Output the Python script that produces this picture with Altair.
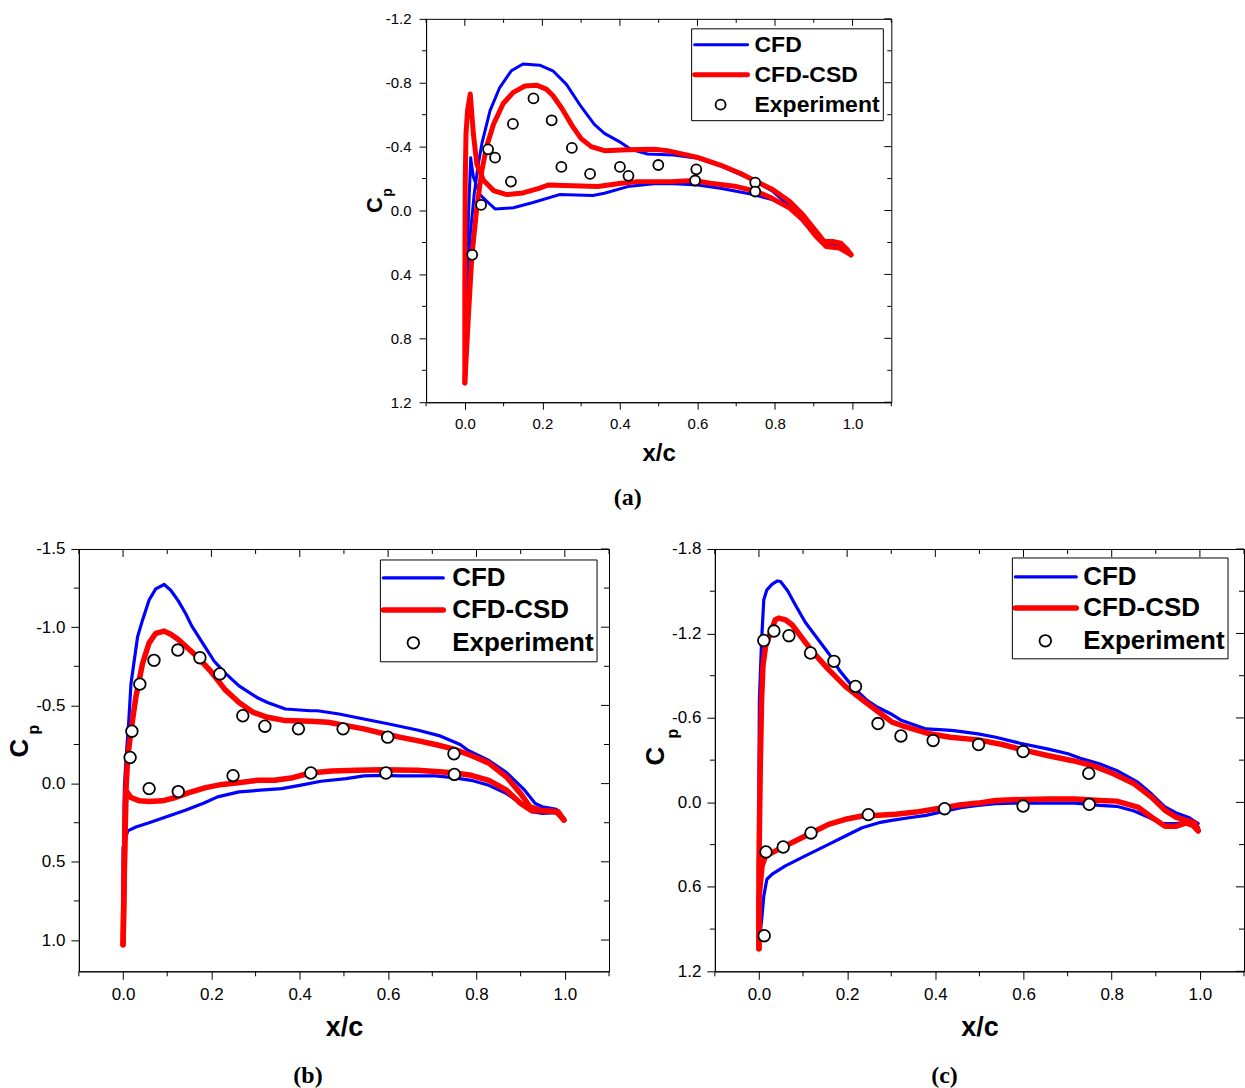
import altair as alt
import pandas as pd

FONT = "Liberation Sans"
SERIF = "Liberation Serif"
BLUE = "#0000ff"
RED = "#ff0000"

SERIES = ["CFD", "CFD-CSD", "Experiment"]

X_MAJOR = [0.0, 0.2, 0.4, 0.6, 0.8, 1.0]
X_MINOR = [-0.1, 0.1, 0.3, 0.5, 0.7, 0.9, 1.1]

A_Y_MAJOR = [-1.2, -0.8, -0.4, 0.0, 0.4, 0.8, 1.2]
A_Y_MINOR = [-1.0, -0.6, -0.2, 0.2, 0.6, 1.0]
B_Y_MAJOR = [-1.5, -1.0, -0.5, 0.0, 0.5, 1.0]
B_Y_MINOR = [-1.25, -0.75, -0.25, 0.25, 0.75]
C_Y_MAJOR = [-1.8, -1.2, -0.6, 0.0, 0.6, 1.2]
C_Y_MINOR = [-1.5, -0.9, -0.3, 0.3, 0.9]

# ---------------- case (a) ----------------
A_CFD_UP_X = [0.0, 0.006, 0.014, 0.024, 0.034, 0.044, 0.065, 0.09, 0.12, 0.15, 0.193, 0.227, 0.262, 0.30, 0.334,
              0.36, 0.403, 0.428, 0.471, 0.539, 0.60, 0.659, 0.744, 0.795, 0.838, 0.872, 0.906, 0.932, 0.966, 0.991]
A_CFD_UP_CP = [1.00, 0.55, 0.15, -0.10, -0.28, -0.42, -0.625, -0.77, -0.875, -0.917, -0.91, -0.875, -0.79, -0.65,
               -0.54, -0.483, -0.425, -0.383, -0.354, -0.348, -0.327, -0.28, -0.19, -0.119, -0.025, 0.069, 0.163,
               0.204, 0.215, 0.267]
A_CFD_LO_X = [0.0, 0.004, 0.009, 0.013, 0.015, 0.022, 0.039, 0.056, 0.078, 0.125, 0.176, 0.244, 0.33, 0.36, 0.42,
              0.488, 0.539, 0.60, 0.659, 0.744, 0.795, 0.838, 0.872, 0.906, 0.932, 0.966, 0.991]
A_CFD_LO_CP = [1.00, 0.50, 0.05, -0.20, -0.33, -0.21, -0.10, -0.06, -0.01, -0.017, -0.05, -0.10, -0.094, -0.108,
               -0.15, -0.167, -0.167, -0.16, -0.14, -0.10, -0.067, -0.015, 0.058, 0.163, 0.215, 0.23, 0.267]
A_CSD_UP_X = [0.0, 0.009, 0.018, 0.031, 0.044, 0.056, 0.074, 0.099, 0.125, 0.155, 0.185, 0.21, 0.227, 0.25, 0.277,
              0.30, 0.326, 0.36, 0.42, 0.488, 0.522, 0.60, 0.659, 0.71, 0.753, 0.795, 0.838, 0.872, 0.906, 0.927,
              0.949, 0.97, 0.987, 0.996]
A_CSD_UP_CP = [1.08, 0.67, 0.29, -0.02, -0.25, -0.40, -0.54, -0.67, -0.74, -0.78, -0.785, -0.76, -0.72, -0.64,
               -0.53, -0.45, -0.40, -0.375, -0.38, -0.383, -0.375, -0.333, -0.285, -0.233, -0.18, -0.13, -0.056,
               0.027, 0.13, 0.194, 0.194, 0.204, 0.246, 0.277]
A_CSD_LO_X = [0.0, 0.0, 0.001, 0.003, 0.007, 0.014, 0.022, 0.031, 0.048, 0.074, 0.108, 0.15, 0.193, 0.215, 0.279,
              0.343, 0.403, 0.445, 0.531, 0.59, 0.633, 0.701, 0.753, 0.787, 0.838, 0.872, 0.906, 0.932, 0.966, 0.996]
A_CSD_LO_CP = [1.08, 0.46, -0.167, -0.48, -0.625, -0.73, -0.48, -0.29, -0.19, -0.125, -0.10, -0.11, -0.14, -0.16,
               -0.155, -0.15, -0.171, -0.181, -0.181, -0.1875, -0.171, -0.15, -0.119, -0.083, -0.015, 0.058, 0.163,
               0.225, 0.235, 0.277]
A_EXP_X = [0.019, 0.042, 0.06, 0.078, 0.119, 0.124, 0.177, 0.224, 0.249, 0.276, 0.323, 0.40, 0.422, 0.499, 0.597,
           0.594, 0.749, 0.749]
A_EXP_CP = [0.277, -0.035, -0.383, -0.331, -0.181, -0.542, -0.702, -0.565, -0.273, -0.392, -0.229, -0.273, -0.217,
            -0.285, -0.258, -0.188, -0.175, -0.119]

# ---------------- case (b) ----------------
B_CFD_UP_X = [0.0, 0.001, 0.002, 0.003, 0.007, 0.013, 0.018, 0.033, 0.044, 0.059, 0.074, 0.093, 0.108, 0.125, 0.142,
              0.155, 0.182, 0.206, 0.23, 0.2625, 0.303, 0.327, 0.3675, 0.424, 0.44, 0.489, 0.545, 0.602, 0.666,
              0.715, 0.763, 0.779, 0.828, 0.868, 0.909, 0.933, 0.949, 0.981, 0.998]
B_CFD_UP_CP = [1.02, 0.6, 0.3, 0.02, -0.17, -0.40, -0.64, -0.94, -1.045, -1.174, -1.245, -1.273, -1.236, -1.168,
               -1.086, -1.01, -0.89, -0.784, -0.71, -0.625, -0.551, -0.519, -0.477, -0.466, -0.466, -0.445, -0.413,
               -0.381, -0.343, -0.307, -0.25, -0.216, -0.148, -0.07, 0.042, 0.127, 0.148, 0.165, 0.222]
B_CFD_LO_X = [0.0, 0.0, 0.0, 0.0105, 0.029, 0.059, 0.10, 0.141, 0.182, 0.214, 0.2625, 0.311, 0.359, 0.40, 0.448,
              0.505, 0.545, 0.586, 0.626, 0.707, 0.747, 0.788, 0.828, 0.868, 0.90, 0.925, 0.949, 0.981, 0.998]
B_CFD_LO_CP = [1.02, 0.6, 0.41, 0.302, 0.277, 0.25, 0.21, 0.17, 0.125, 0.085, 0.053, 0.042, 0.032, 0.011, -0.015,
               -0.032, -0.049, -0.053, -0.049, -0.049, -0.038, -0.021, 0.011, 0.064, 0.127, 0.18, 0.19, 0.186, 0.233]
B_CSD_UP_X = [0.0, 0.003, 0.005, 0.0105, 0.018, 0.029, 0.044, 0.059, 0.074, 0.093, 0.108, 0.125, 0.166, 0.198, 0.23,
              0.2625, 0.295, 0.327, 0.3675, 0.424, 0.464, 0.505, 0.545, 0.586, 0.626, 0.666, 0.707, 0.747, 0.788,
              0.828, 0.868, 0.90, 0.921, 0.949, 0.981, 0.998]
B_CSD_UP_CP = [1.03, 0.56, 0.13, -0.168, -0.339, -0.553, -0.767, -0.90, -0.96, -0.975, -0.955, -0.922, -0.816, -0.72,
               -0.604, -0.519, -0.455, -0.424, -0.403, -0.398, -0.392, -0.371, -0.35, -0.322, -0.297, -0.275, -0.25,
               -0.222, -0.18, -0.131, -0.042, 0.064, 0.148, 0.174, 0.18, 0.233]
B_CSD_LO_X = [0.0, 0.003, 0.007, 0.018, 0.037, 0.059, 0.089, 0.119, 0.149, 0.187, 0.224, 0.261, 0.303, 0.343, 0.384,
              0.424, 0.4725, 0.529, 0.586, 0.666, 0.707, 0.747, 0.788, 0.828, 0.868, 0.90, 0.925, 0.957, 0.985, 0.998]
B_CSD_LO_CP = [1.03, 0.50, 0.046, 0.089, 0.11, 0.115, 0.11, 0.089, 0.058, 0.026, 0.005, -0.006, -0.021, -0.021,
               -0.038, -0.068, -0.08, -0.085, -0.089, -0.085, -0.078, -0.07, -0.053, -0.021, 0.042, 0.127, 0.174,
               0.174, 0.18, 0.233]
B_EXP_X = [0.016, 0.02, 0.038, 0.07, 0.124, 0.174, 0.219, 0.271, 0.321, 0.397, 0.498, 0.599, 0.749, 0.059, 0.125,
           0.249, 0.425, 0.595, 0.75]
B_EXP_CP = [-0.167, -0.335, -0.636, -0.788, -0.854, -0.805, -0.701, -0.434, -0.367, -0.35, -0.35, -0.297, -0.191,
            0.032, 0.051, -0.051, -0.068, -0.068, -0.059]

# ---------------- case (c) ----------------
C_CFD_UP_X = [0.0, 0.0, 0.0, 0.001, 0.006, 0.011, 0.018, 0.03, 0.042, 0.049, 0.065, 0.083, 0.105, 0.136, 0.159,
              0.183, 0.214, 0.246, 0.269, 0.302, 0.324, 0.379, 0.419, 0.442, 0.497, 0.537, 0.592, 0.654, 0.701,
              0.733, 0.772, 0.811, 0.859, 0.89, 0.921, 0.945, 0.976, 0.996]
C_CFD_UP_CP = [1.03, 0.4, -0.2, -0.73, -1.15, -1.44, -1.51, -1.55, -1.573, -1.569, -1.503, -1.40, -1.28, -1.15,
               -1.054, -0.936, -0.817, -0.723, -0.676, -0.624, -0.581, -0.522, -0.515, -0.51, -0.487, -0.463, -0.42,
               -0.38, -0.345, -0.309, -0.274, -0.227, -0.144, -0.061, 0.033, 0.073, 0.109, 0.151]
C_CFD_LO_X = [0.0, 0.007, 0.011, 0.018, 0.03, 0.06, 0.105, 0.158, 0.196, 0.234, 0.272, 0.301, 0.34, 0.379, 0.419,
              0.458, 0.497, 0.537, 0.576, 0.654, 0.717, 0.772, 0.811, 0.851, 0.882, 0.914, 0.945, 0.976, 0.996]
C_CFD_LO_CP = [1.018, 0.806, 0.664, 0.546, 0.51, 0.451, 0.38, 0.298, 0.239, 0.18, 0.144, 0.128, 0.109, 0.092, 0.064,
               0.038, 0.021, 0.009, 0.005, 0.005, 0.005, 0.021, 0.028, 0.061, 0.104, 0.151, 0.151, 0.139, 0.175]
C_CSD_UP_X = [0.0, 0.0, 0.003, 0.006, 0.009, 0.015, 0.026, 0.037, 0.045, 0.06, 0.075, 0.098, 0.121, 0.158, 0.196,
              0.234, 0.272, 0.302, 0.324, 0.387, 0.434, 0.497, 0.552, 0.599, 0.654, 0.709, 0.756, 0.804, 0.851, 0.89,
              0.921, 0.945, 0.969, 0.988, 0.996]
C_CSD_UP_CP = [1.04, 0.451, -0.258, -0.73, -0.966, -1.108, -1.202, -1.297, -1.309, -1.297, -1.262, -1.167, -1.073,
               -0.943, -0.824, -0.73, -0.64, -0.57, -0.546, -0.487, -0.463, -0.444, -0.411, -0.373, -0.333, -0.298,
               -0.262, -0.203, -0.132, -0.038, 0.057, 0.104, 0.128, 0.146, 0.198]
C_CSD_LO_X = [0.0, 0.0, 0.007, 0.015, 0.03, 0.06, 0.105, 0.158, 0.196, 0.234, 0.272, 0.31, 0.356, 0.403, 0.45, 0.497,
              0.537, 0.576, 0.654, 0.717, 0.772, 0.811, 0.859, 0.89, 0.921, 0.945, 0.969, 0.984, 0.996]
C_CSD_LO_CP = [1.04, 0.687, 0.451, 0.38, 0.357, 0.309, 0.239, 0.156, 0.12, 0.097, 0.092, 0.085, 0.069, 0.045, 0.021,
               0.005, -0.014, -0.019, -0.024, -0.024, -0.014, -0.009, 0.033, 0.104, 0.17, 0.17, 0.146, 0.163, 0.203]
C_EXP_X = [0.011, 0.034, 0.068, 0.117, 0.17, 0.219, 0.27, 0.322, 0.395, 0.498, 0.599, 0.748, 0.016, 0.055, 0.118,
           0.248, 0.421, 0.599, 0.749, 0.012]
C_EXP_CP = [-1.15, -1.217, -1.184, -1.061, -1.002, -0.824, -0.56, -0.472, -0.439, -0.411, -0.361, -0.206, 0.352,
            0.317, 0.217, 0.087, 0.045, 0.026, 0.014, 0.947]

# Tick labels use a plain hyphen for negative numbers
HYPHEN_LABELS = "replace(format(datum.value, '.1f'), '\u2212', '-')"


def surface_frame(up_x, up_cp, lo_x, lo_cp):
    rows = []
    for name, xs, cps in (("upper", up_x, up_cp), ("lower", lo_x, lo_cp)):
        for i, (x, cp) in enumerate(zip(xs, cps)):
            rows.append({"x": x, "cp": cp, "surface": name, "idx": i})
    return pd.DataFrame(rows)


def build_panel(cfg):
    W, H = cfg["width"], cfg["height"]
    maj, mnr = cfg["major"], cfg["minor"]
    xs = alt.Scale(domain=[-0.1, 1.1], nice=False, zero=False)
    ys = alt.Scale(domain=cfg["ydomain"], reverse=True, nice=False, zero=False)

    x_axis = alt.Axis(values=X_MAJOR, format=".1f", title="x/c", grid=False,
                      tickSize=maj, tickColor="black", tickWidth=1,
                      domainColor="black", domainWidth=1,
                      labelFont=FONT, labelFontSize=cfg["label_fs"], labelColor="black",
                      labelPadding=cfg["xlabel_pad"], labelFlush=False, labelOverlap=False,
                      titleFont=FONT, titleFontSize=cfg["title_fs"], titleFontWeight="bold",
                      titleColor="black", titlePadding=cfg["xtitle_pad"])
    y_axis = alt.Axis(values=cfg["ymajor"], labelExpr=HYPHEN_LABELS, title="C", grid=False,
                      tickSize=maj, tickColor="black", tickWidth=1,
                      domainColor="black", domainWidth=1,
                      labelFont=FONT, labelFontSize=cfg["label_fs"], labelColor="black",
                      labelPadding=cfg["ylabel_pad"], labelFlush=False, labelOverlap=False,
                      titleFont=FONT, titleFontSize=cfg["c_fs"], titleFontWeight="bold", titleColor="black",
                      titleAngle=270, titleAlign="center", titleBaseline="alphabetic",
                      titleX=cfg["c_x"], titleY=cfg["c_y"])

    # every layer carries the same axis definition so the shared axes merge cleanly
    def X():
        return alt.X("x:Q", scale=xs, axis=x_axis)

    def Y():
        return alt.Y("cp:Q", scale=ys, axis=y_axis)

    cfd = alt.Chart(cfg["cfd"]).mark_line(
        color=BLUE, strokeWidth=cfg["thin"], strokeJoin="round", strokeCap="round"
    ).encode(x=X(), y=Y(), detail="surface:N", order="idx:Q")
    csd = alt.Chart(cfg["csd"]).mark_line(
        color=RED, strokeWidth=cfg["thick"], strokeJoin="round", strokeCap="round"
    ).encode(x=X(), y=Y(), detail="surface:N", order="idx:Q")
    exp = alt.Chart(cfg["exp"]).mark_point(
        shape="circle", filled=True, fill="white", stroke="black", strokeWidth=1.8,
        size=cfg["pt"], opacity=1
    ).encode(x=X(), y=Y())

    # minor ticks and the mirrored ticks on the top and right frame edges
    def xt(vals, y0, y1):
        return alt.Chart(pd.DataFrame({"x": vals})).mark_rule(color="black", strokeWidth=1).encode(
            x=X(), y=alt.value(y0), y2=alt.value(y1))

    def yt(vals, x0, x1):
        return alt.Chart(pd.DataFrame({"cp": vals})).mark_rule(color="black", strokeWidth=1).encode(
            y=Y(), x=alt.value(x0), x2=alt.value(x1))

    ticks = [xt(X_MINOR, H, H + mnr), xt(X_MAJOR, 0, maj), xt(X_MINOR, 0, mnr),
             yt(cfg["yminor"], -mnr, 0), yt(cfg["ymajor"], W - maj, W), yt(cfg["yminor"], W - mnr, W)]

    L = cfg["legend"]
    one = pd.DataFrame({"k": [0]})
    box = alt.Chart(one).mark_rect(fill="white", stroke="black", strokeWidth=1).encode(
        x=alt.value(L["x0"]), x2=alt.value(L["x1"]), y=alt.value(L["y0"]), y2=alt.value(L["y1"]))

    def sample(color, width, row):
        return alt.Chart(one).mark_rule(color=color, strokeWidth=width, strokeCap="round").encode(
            x=alt.value(L["lx0"]), x2=alt.value(L["lx1"]), y=alt.value(row))

    def label(text, row):
        return alt.Chart(one).mark_text(
            align="left", baseline="middle", font=FONT, fontSize=L["fs"], fontWeight="bold", color="black"
        ).encode(x=alt.value(L["tx"]), y=alt.value(row), text=alt.value(text))

    rows = L["rows"]
    dot = alt.Chart(one).mark_point(
        shape="circle", filled=True, fill="white", stroke="black", strokeWidth=1.8, size=cfg["pt"], opacity=1
    ).encode(x=alt.value(L["cx"]), y=alt.value(rows[2]))
    legend = [box, sample(BLUE, cfg["thin"], rows[0]), sample(RED, cfg["thick"], rows[1]), dot,
              label(SERIES[0], rows[0]), label(SERIES[1], rows[1]), label(SERIES[2], rows[2])]

    sub = alt.Chart(one).mark_text(
        angle=270, align="center", baseline="alphabetic", font=FONT, fontSize=cfg["p_fs"],
        fontWeight="bold", color="black"
    ).encode(x=alt.value(cfg["p_x"]), y=alt.value(cfg["p_y"]), text=alt.value("p"))

    layers = [cfd, csd, exp, *ticks, *legend, sub]
    if cfg.get("gutter"):
        # transparent spacer to the right of the frame, used to balance the centred top panel
        layers.append(alt.Chart(one).mark_rule(opacity=0).encode(
            x=alt.value(W + cfg["gutter"]), y=alt.value(0), y2=alt.value(H)))

    return alt.layer(*layers).properties(
        width=W, height=H,
        title=alt.TitleParams(text=cfg["caption"], orient="bottom", anchor="middle", font=SERIF,
                              fontSize=24, fontWeight="bold", color="black", offset=cfg["cap_off"],
                              dx=cfg["cap_dx"]))


panel_a = build_panel(dict(
    width=466, height=384, ydomain=[-1.2, 1.2], ymajor=A_Y_MAJOR, yminor=A_Y_MINOR,
    major=7, minor=4, label_fs=15, title_fs=24, c_fs=22, p_fs=14,
    xlabel_pad=7, xtitle_pad=10, ylabel_pad=8, c_x=-45, c_y=186, p_x=-34, p_y=174,
    thin=3, thick=5, pt=100, caption="(a)", cap_off=21, cap_dx=-31, gutter=6,
    cfd=surface_frame(A_CFD_UP_X, A_CFD_UP_CP, A_CFD_LO_X, A_CFD_LO_CP),
    csd=surface_frame(A_CSD_UP_X, A_CSD_UP_CP, A_CSD_LO_X, A_CSD_LO_CP),
    exp=pd.DataFrame({"x": A_EXP_X, "cp": A_EXP_CP}),
    legend=dict(x0=266, x1=458, y0=10, y1=102, lx0=269, lx1=322, cx=295, tx=329, rows=[26, 56, 86], fs=23),
))

panel_b = build_panel(dict(
    width=531, height=423, ydomain=[-1.5, 1.2], ymajor=B_Y_MAJOR, yminor=B_Y_MINOR,
    major=8, minor=5, label_fs=17, title_fs=27, c_fs=26, p_fs=16,
    xlabel_pad=7, xtitle_pad=12, ylabel_pad=6, c_x=-51, c_y=199, p_x=-40, p_y=181,
    thin=3.2, thick=5.5, pt=135, caption="(b)", cap_off=24, cap_dx=-36,
    cfd=surface_frame(B_CFD_UP_X, B_CFD_UP_CP, B_CFD_LO_X, B_CFD_LO_CP),
    csd=surface_frame(B_CSD_UP_X, B_CSD_UP_CP, B_CSD_LO_X, B_CSD_LO_CP),
    exp=pd.DataFrame({"x": B_EXP_X, "cp": B_EXP_CP}),
    legend=dict(x0=302, x1=519, y0=11, y1=113, lx0=305, lx1=365, cx=335, tx=374, rows=[29, 61, 94], fs=26),
))

panel_c = build_panel(dict(
    width=530, height=423, ydomain=[-1.8, 1.2], ymajor=C_Y_MAJOR, yminor=C_Y_MINOR,
    major=8, minor=5, label_fs=17, title_fs=27, c_fs=26, p_fs=16,
    xlabel_pad=7, xtitle_pad=12, ylabel_pad=6, c_x=-51, c_y=207, p_x=-37, p_y=185,
    thin=3.2, thick=5.5, pt=135, caption="(c)", cap_off=24, cap_dx=-35,
    cfd=surface_frame(C_CFD_UP_X, C_CFD_UP_CP, C_CFD_LO_X, C_CFD_LO_CP),
    csd=surface_frame(C_CSD_UP_X, C_CSD_UP_CP, C_CSD_LO_X, C_CSD_LO_CP),
    exp=pd.DataFrame({"x": C_EXP_X, "cp": C_EXP_CP}),
    legend=dict(x0=298, x1=514, y0=9, y1=110, lx0=301, lx1=362, cx=331, tx=369, rows=[28, 59, 92], fs=26),
))

chart = alt.vconcat(
    panel_a,
    alt.hconcat(panel_b, panel_c, spacing=32),
    spacing=28, center=True,
).properties(
    padding={"left": 6, "top": 10, "right": 0, "bottom": 0},
    background="white",
).configure_view(stroke="black", strokeWidth=1)

chart.save("out.html", embed_options={"renderer": "svg", "actions": False})
